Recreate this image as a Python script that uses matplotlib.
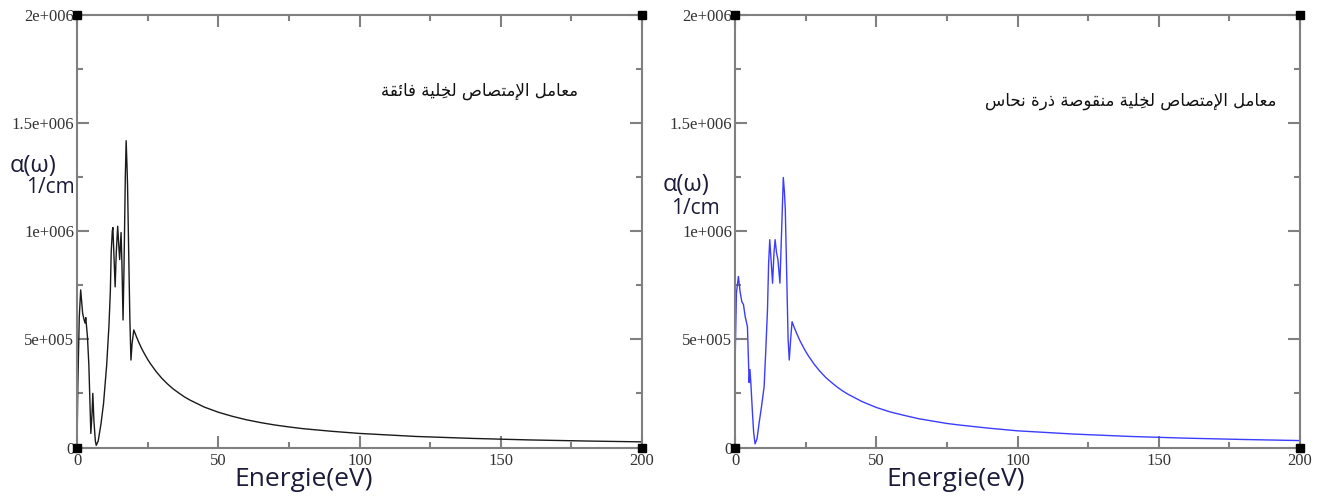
# -*- coding: utf-8 -*-
# coefficient d'absorption : supercellule / supercellule avec lacune de Cu
import numpy as np
import matplotlib
matplotlib.use('Agg')
import matplotlib.pyplot as plt

# ---------------------------------------------------------------- donnees
# supercellule (courbe noire), energie en eV, alpha en 1/cm
energie_a = [0, 0.3, 0.8, 1.3, 2.0, 2.5, 2.85, 3.1, 3.7, 4.2, 4.6, 4.9, 5.3, 5.6,
             6.0, 6.5, 6.8, 7.5, 8.5, 9.4, 10.5, 11.3, 11.8, 12.1, 12.5, 12.7,
             13.1, 13.5, 13.9, 14.4, 14.8, 15.1, 15.6, 15.9, 16.3, 16.6, 16.8,
             17.1, 17.4, 17.7, 17.9, 18.3, 18.7, 19.1, 19.5, 20.1, 21, 22, 23,
             24, 25, 26, 28, 30, 32, 34, 36, 38, 40, 45, 50, 55, 60, 65, 70, 75,
             80, 90, 100, 120, 140, 160, 180, 200]
alpha_a = [0, 290e3, 600e3, 728e3, 620e3, 590e3, 575e3, 600e3, 512e3, 380e3,
           200e3, 65e3, 150e3, 250e3, 120e3, 30e3, 10e3, 30e3, 110e3, 204e3,
           380e3, 560e3, 720e3, 900e3, 1000e3, 1016e3, 880e3, 742e3, 900e3,
           1022e3, 930e3, 868e3, 993e3, 850e3, 589e3, 800e3, 976e3, 1250e3,
           1417e3, 1300e3, 1208e3, 900e3, 600e3, 404e3, 480e3, 543e3, 513e3,
           482e3, 454e3, 430e3, 407e3, 387e3, 351e3, 320e3, 294e3, 271e3, 252e3,
           234e3, 219e3, 187e3, 163e3, 144e3, 128e3, 115e3, 104e3, 95e3, 87e3,
           75e3, 65e3, 51e3, 42e3, 35e3, 30e3, 26e3]

# supercellule avec lacune de Cu (courbe bleue)
energie_b = [0, 0.5, 1.2, 1.8, 2.4, 3.0, 3.6, 4.4, 5.0, 5.3, 5.6, 6.2, 6.6, 7.1,
             7.8, 8.5, 9.4, 10.3, 10.9, 11.5, 11.9, 12.3, 12.8, 13.3, 13.8, 14.2,
             14.7, 15.2, 15.9, 16.5, 17.1, 17.5, 17.8, 18.3, 18.8, 19.2, 19.7,
             20.2, 21, 22, 23, 24, 25, 26, 28, 30, 32, 34, 36, 38, 40, 45, 50, 55,
             60, 65, 70, 75, 80, 90, 100, 120, 140, 160, 180, 200]
alpha_b = [372e3, 713e3, 790e3, 720e3, 674e3, 660e3, 605e3, 558e3, 300e3,
           360e3, 300e3, 156e3, 70e3, 17e3, 40e3, 110e3, 190e3, 280e3, 450e3,
           636e3, 850e3, 960e3, 860e3, 759e3, 900e3, 960e3, 900e3, 868e3, 759e3,
           1000e3, 1247e3, 1180e3, 1100e3, 800e3, 500e3, 404e3, 500e3, 581e3,
           553e3, 522e3, 493e3, 468e3, 444e3, 423e3, 385e3, 353e3, 325e3, 302e3,
           281e3, 262e3, 246e3, 212e3, 185e3, 164e3, 148e3, 133e3, 122e3, 111e3,
           103e3, 89e3, 77e3, 62e3, 51e3, 43e3, 37e3, 32e3]

x_ticks = [0, 50, 100, 150, 200]
x_labels = ['0', '50', '100', '150', '200']
y_ticks = [0, 5e5, 1e6, 1.5e6, 2e6]
y_labels = ['0', '5e+005', '1e+006', '1.5e+006', '2e+006']

titre_a = 'معامل الإمتصاص لخلِية فائقة'
titre_b = 'معامل الإمتصاص لخلِية منقوصة ذرة نحاس'

# ---------------------------------------------------------------- arabe
# matplotlib 3.10 ne fait pas la mise en forme arabe : formes de presentation
# (isole, final, initial, medial) puis ordre visuel
FORMES = {
    '\u0627': ('\uFE8D', '\uFE8E'),
    '\u0625': ('\uFE87', '\uFE88'),
    '\u0626': ('\uFE89', '\uFE8A', '\uFE8B', '\uFE8C'),
    '\u0629': ('\uFE93', '\uFE94'),
    '\u062A': ('\uFE95', '\uFE96', '\uFE97', '\uFE98'),
    '\u062D': ('\uFEA1', '\uFEA2', '\uFEA3', '\uFEA4'),
    '\u062E': ('\uFEA5', '\uFEA6', '\uFEA7', '\uFEA8'),
    '\u0630': ('\uFEAB', '\uFEAC'),
    '\u0631': ('\uFEAD', '\uFEAE'),
    '\u0633': ('\uFEB1', '\uFEB2', '\uFEB3', '\uFEB4'),
    '\u0635': ('\uFEB9', '\uFEBA', '\uFEBB', '\uFEBC'),
    '\u0639': ('\uFEC9', '\uFECA', '\uFECB', '\uFECC'),
    '\u0641': ('\uFED1', '\uFED2', '\uFED3', '\uFED4'),
    '\u0642': ('\uFED5', '\uFED6', '\uFED7', '\uFED8'),
    '\u0644': ('\uFEDD', '\uFEDE', '\uFEDF', '\uFEE0'),
    '\u0645': ('\uFEE1', '\uFEE2', '\uFEE3', '\uFEE4'),
    '\u0646': ('\uFEE5', '\uFEE6', '\uFEE7', '\uFEE8'),
    '\u0648': ('\uFEED', '\uFEEE'),
    '\u064A': ('\uFEF1', '\uFEF2', '\uFEF3', '\uFEF4'),
}
LAM_ALEF = {'\u0627': ('\uFEFB', '\uFEFC'), '\u0625': ('\uFEF9', '\uFEFA')}
HARAKAT = '\u0650'


def arabe(texte):
    grappes = []   # [formes, caractere, marques]
    for c in texte:
        if c in HARAKAT:
            grappes[-1][2] += c
        elif c in LAM_ALEF and grappes and grappes[-1][1] == '\u0644':
            grappes[-1][0] = LAM_ALEF[c]
            grappes[-1][1] = c
        else:
            grappes.append([FORMES.get(c), c, ''])
    sortie = []
    for i, (f, c, m) in enumerate(grappes):
        if f is None:
            sortie.append(c + m)
            continue
        prec = grappes[i - 1][0] if i > 0 else None
        suiv = grappes[i + 1][0] if i + 1 < len(grappes) else None
        avant = prec is not None and len(prec) == 4
        apres = len(f) == 4 and suiv is not None
        if avant and apres:
            g = f[3]
        elif apres:
            g = f[2]
        elif avant:
            g = f[1]
        else:
            g = f[0]
        sortie.append(g + m)
    return ''.join(reversed(sortie))


# ---------------------------------------------------------------- figure
W, H = 1325, 501
fig = plt.figure(figsize=(W / 100, H / 100), dpi=100)

gris = '#808080'
encre = '#1c1c3a'


def panneau(x0, energie, alpha, couleur):
    ax = fig.add_axes([x0 / W, 1 - 447.5 / H, 565 / W, 433 / H])
    ax.plot(energie, alpha, c=couleur, lw=1.0)
    ax.set_xlim(0, 200)
    ax.set_ylim(0, 2e6)
    ax.set_xticks(x_ticks)
    ax.set_xticklabels(x_labels)
    ax.set_yticks(y_ticks)
    ax.set_yticklabels(y_labels)
    ax.set_xticks(np.arange(25, 200, 50), minor=True)
    ax.set_yticks(np.arange(2.5e5, 2e6, 5e5), minor=True)
    ax.tick_params(which='both', direction='in', top=True, right=True,
                   color=gris, width=1.5, labelcolor='#333333')
    ax.tick_params(which='major', length=8.5)
    ax.tick_params(which='minor', length=4.5)
    ax.tick_params(axis='x', pad=4)
    ax.tick_params(axis='y', pad=2)
    for lab in ax.get_xticklabels() + ax.get_yticklabels():
        lab.set_family('Liberation Serif')
        lab.set_fontsize(12)
    for s in ax.spines.values():
        s.set_color(gris)
        s.set_linewidth(1.5)
    # petits carres noirs aux coins (style xmgrace)
    ax.plot([0, 0, 1, 1], [0, 1, 1, 0], 's', color='k', ms=6,
            transform=ax.transAxes, clip_on=False, zorder=5)
    return ax


ax1 = panneau(77, energie_a, alpha_a, '#1a1a1a')
ax2 = panneau(735, energie_b, alpha_b, '#3c3cff')

# etiquettes
fig.text(304 / W, 1 - 479 / H, 'Energie(eV)', family='Open Sans', fontsize=19,
         color=encre, ha='center', va='center')
fig.text(956 / W, 1 - 479 / H, 'Energie(eV)', family='Open Sans', fontsize=19,
         color=encre, ha='center', va='center')

fig.text(33 / W, 1 - 166 / H, 'α(ω)', family='Open Sans', fontsize=17,
         color=encre, ha='center', va='center')
fig.text(50 / W, 1 - 188 / H, '1/cm', family='Open Sans', fontsize=15,
         color=encre, ha='center', va='center')
fig.text(686 / W, 1 - 185 / H, 'α(ω)', family='Open Sans', fontsize=17,
         color=encre, ha='center', va='center')
fig.text(695 / W, 1 - 208 / H, '1/cm', family='Open Sans', fontsize=15,
         color=encre, ha='center', va='center')

fig.text(480 / W, 1 - 91 / H, arabe(titre_a), family='DejaVu Sans',
         fontsize=12, color='#111111', ha='center', va='center')
fig.text(1131 / W, 1 - 101 / H, arabe(titre_b), family='DejaVu Sans',
         fontsize=12, color='#111111', ha='center', va='center')

fig.savefig('out.png', dpi=100)
